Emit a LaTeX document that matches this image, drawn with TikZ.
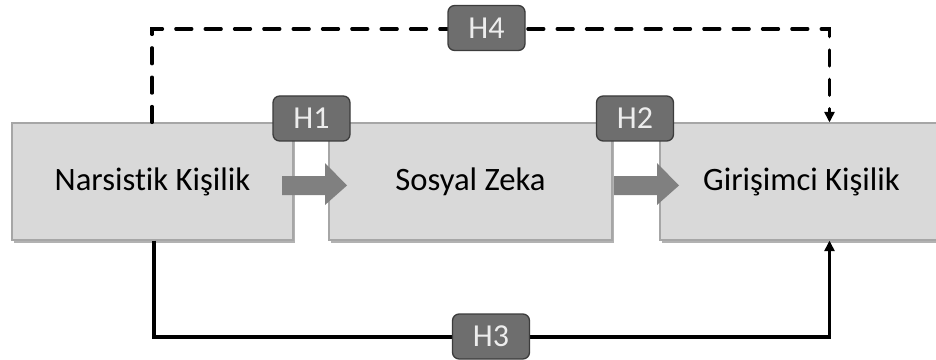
\documentclass[tikz,border=0pt]{standalone}
\usepackage{fontspec}
\setmainfont{Carlito}[Ligatures={NoCommon}]
\usetikzlibrary{arrows.meta,shadows}
\definecolor{boxfill}{HTML}{D9D9D9}
\definecolor{boxline}{HTML}{A6A6A6}
\definecolor{badgefill}{HTML}{6E6E6E}
\definecolor{badgeline}{HTML}{3C3C3C}
\definecolor{arrowfill}{HTML}{808080}
\begin{document}
\begin{tikzpicture}[x=0.75pt,y=-0.75pt,
  varbox/.style={draw=boxline, line width=0.8pt, fill=boxfill,
    minimum height=87.75pt, inner sep=0pt,
    font=\fontsize{24.5}{28}\selectfont,
    drop shadow={shadow xshift=1.8pt, shadow yshift=-2.6pt, fill=black, opacity=0.3}},
  badge/.style={draw=badgeline, line width=1pt, fill=badgefill, rounded corners=5pt,
    minimum width=57.75pt, minimum height=33.75pt, inner sep=0pt,
    text=white!93!black, font=\fontsize{24}{28}\selectfont},
  blockarrow/.style={fill=arrowfill, draw=none},
  linkline/.style={line width=2.4pt, -{Triangle[length=8pt,width=7.5pt]}},
  dashlink/.style={linkline, line cap=round, dash pattern=on 12pt off 10pt}]
\useasboundingbox (0,0) rectangle (936,360);
\clip (0,0) rectangle (936,360);
\fill[white] (0,0) rectangle (936,360);
% boxes
\node[varbox, minimum width=210.75pt] (b1) at (152.5,181.5) {\raisebox{-1.5pt}{Narsistik Kişilik}};
\node[varbox, minimum width=212.25pt] (b2) at (470.5,181.5) {\raisebox{-1.5pt}{Sosyal Zeka}};
\node[varbox, minimum width=212.25pt] (b3) at (801.5,181.5) {\raisebox{-1.5pt}{Girişimci Kişilik}};
% block arrows
\fill[blockarrow] (282,176) -- (325,176) -- (325,163) -- (347,185.5) -- (325,205) -- (325,195) -- (282,195) -- cycle;
\fill[blockarrow] (614,176) -- (657,176) -- (657,163) -- (679,185.5) -- (657,205) -- (657,195) -- (614,195) -- cycle;
% route levels
\coordinate (toplevel) at (0,29);
\coordinate (botlevel) at (0,337);
\coordinate (s1top) at ([xshift=-0.4pt]b1.north);
\coordinate (s1bot) at ([xshift=1.1pt]b1.south);
\coordinate (t3top) at ([xshift=21pt]b3.north);
\coordinate (t3bot) at ([xshift=21pt]b3.south);
% connectors
\draw[dashlink] (s1top) -- (s1top |- toplevel) -| (t3top);
\draw[linkline] (s1bot) -- (s1bot |- botlevel) -| (t3bot);
% badges
\node[badge] (h1) at (311.5,118.5) {H1};
\node[badge] (h2) at (635,118.5) {H2};
\node[badge] (h4) at (486.5,28) {H4};
\node[badge] (h3) at (491,336.5) {H3};
\end{tikzpicture}
\end{document}
